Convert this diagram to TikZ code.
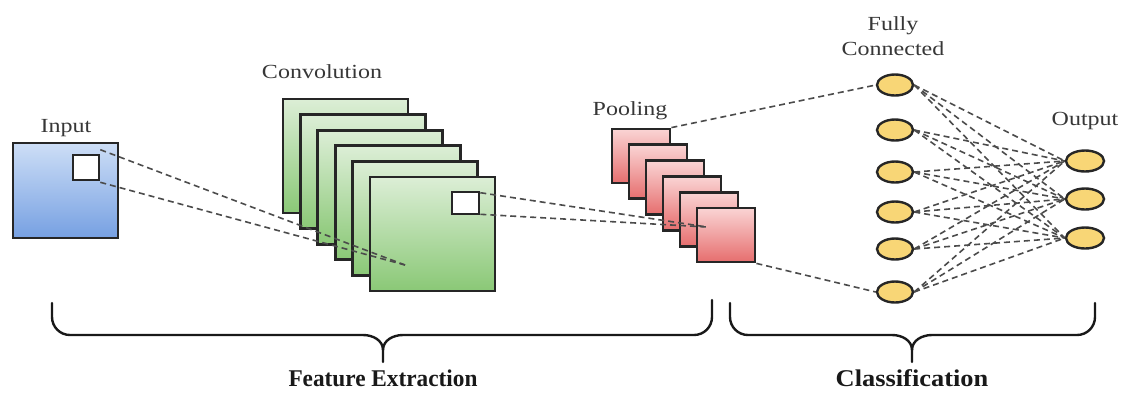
\documentclass[tikz,border=0pt]{standalone}
\usepackage{fontspec}
\setmainfont{Liberation Serif}
\usetikzlibrary{shapes.geometric}
\definecolor{intop}{RGB}{205,222,246}
\definecolor{inbot}{RGB}{118,160,226}
\definecolor{cvtop}{RGB}{220,238,214}
\definecolor{cvbot}{RGB}{138,200,118}
\definecolor{pltop}{RGB}{250,212,212}
\definecolor{plbot}{RGB}{230,110,110}
\definecolor{nodefill}{RGB}{248,214,118}
\definecolor{lblgray}{RGB}{55,55,55}
\definecolor{dashgray}{RGB}{75,75,75}
\begin{document}
\begin{tikzpicture}[x=1pt,y=-1pt,
  lbl/.style={font=\fontsize{20}{25}\selectfont, text=lblgray, xscale=1.2, anchor=base, inner sep=0},
  blbl/.style={font=\fontsize{24}{28}\selectfont\bfseries, text=black!90, anchor=base, inner sep=0},
  inbox/.style={draw=black!85, line width=2.8pt, top color=intop, bottom color=inbot, minimum width=105pt, minimum height=95pt, inner sep=0},
  cvbox/.style={draw=black!85, line width=2.8pt, top color=cvtop, bottom color=cvbot, minimum width=125pt, minimum height=114pt, inner sep=0},
  plbox/.style={draw=black!85, line width=2.8pt, top color=pltop, bottom color=plbot, minimum width=58pt, minimum height=54pt, inner sep=0},
  winbox/.style={draw=black!85, line width=2.6pt, fill=white, inner sep=0},
  neuron/.style={ellipse, draw=black!85, line width=2.4pt, fill=nodefill, minimum width=36pt, minimum height=21pt, inner sep=0},
  dline/.style={draw=dashgray, line width=1.6pt, dash pattern=on 6pt off 4pt},
  brace/.style={draw=black!90, line width=2.4pt, line cap=round, line join=round}
]
\useasboundingbox (0,0) rectangle (1125,392);

% Input
\node[inbox] (in) at (65.5,190.5) {};
\node[winbox, minimum width=26pt, minimum height=25pt] (inw) at (86,167.5) {};
\node[lbl] (inlbl) at (66,132) {Input};

% Convolution stack
\foreach \i in {0,...,5} {
  \node[cvbox] (cv\i) at ({345.5+17.4*\i},{156+15.6*\i}) {};
}
\node[winbox, minimum width=27pt, minimum height=22pt] (cvw) at (465.5,203) {};
\node[lbl] (cvlbl) at (322,78) {Convolution};
\coordinate (cvend) at (405,265);
\draw[dline] ([yshift=4pt]inw.north east) -- (cvend);
\draw[dline] ([yshift=-1pt]inw.south east) -- (cvend);

% Pooling stack
\foreach \i in {0,...,5} {
  \node[plbox] (pl\i) at ({641+17*\i},{156+15.8*\i}) {};
}
\node[lbl] (pllbl) at (630,115) {Pooling};
\coordinate (plend) at (707,227);
\draw[dline] ([yshift=-2pt]cvw.north east) -- (plend);
\draw[dline] ([yshift=1pt]cvw.south east) -- (plend);

% Fully connected
\node[neuron] (fc1) at (895,85) {};
\node[neuron] (fc2) at (895,130) {};
\node[neuron] (fc3) at (895,172) {};
\node[neuron] (fc4) at (895,212) {};
\node[neuron] (fc5) at (895,249) {};
\node[neuron] (fc6) at (895,292) {};
\node[lbl] (fclbl1) at (893,30) {Fully};
\node[lbl] (fclbl2) at (893,55) {Connected};

% Output
\node[neuron, minimum width=38pt] (o1) at (1085,161) {};
\node[neuron, minimum width=38pt] (o2) at (1085,199) {};
\node[neuron, minimum width=38pt] (o3) at (1085,238) {};
\node[lbl] (olbl) at (1085,125) {Output};

\draw[dline] (pl0.north east) -- (fc1.west);
\draw[dline] (pl5.south east) -- (fc6.west);
\foreach \a in {1,...,6} {
  \foreach \b in {1,2,3} {
    \draw[dline] (fc\a.east) -- (o\b.west);
  }
}

% Braces
\draw[brace] (52,303) -- (52,317) to[out=-90,in=180] (70,335) -- (363,335)
  to[out=0,in=90] (383,350) -- (383,362);
\draw[brace] (383,350) to[out=90,in=180] (403,335) -- (694,335) to[out=0,in=-90] (712,317) -- (712,300);
\draw[brace] (730,303) -- (730,317) to[out=-90,in=180] (748,335) -- (892,335)
  to[out=0,in=90] (912,350) -- (912,362);
\draw[brace] (912,350) to[out=90,in=180] (932,335) -- (1077,335) to[out=0,in=-90] (1095,317) -- (1095,303);

\node[blbl, xscale=0.97] (fe) at (383,386) {Feature Extraction};
\node[blbl, xscale=1.1] (cl) at (912,386) {Classification};
\end{tikzpicture}
\end{document}
